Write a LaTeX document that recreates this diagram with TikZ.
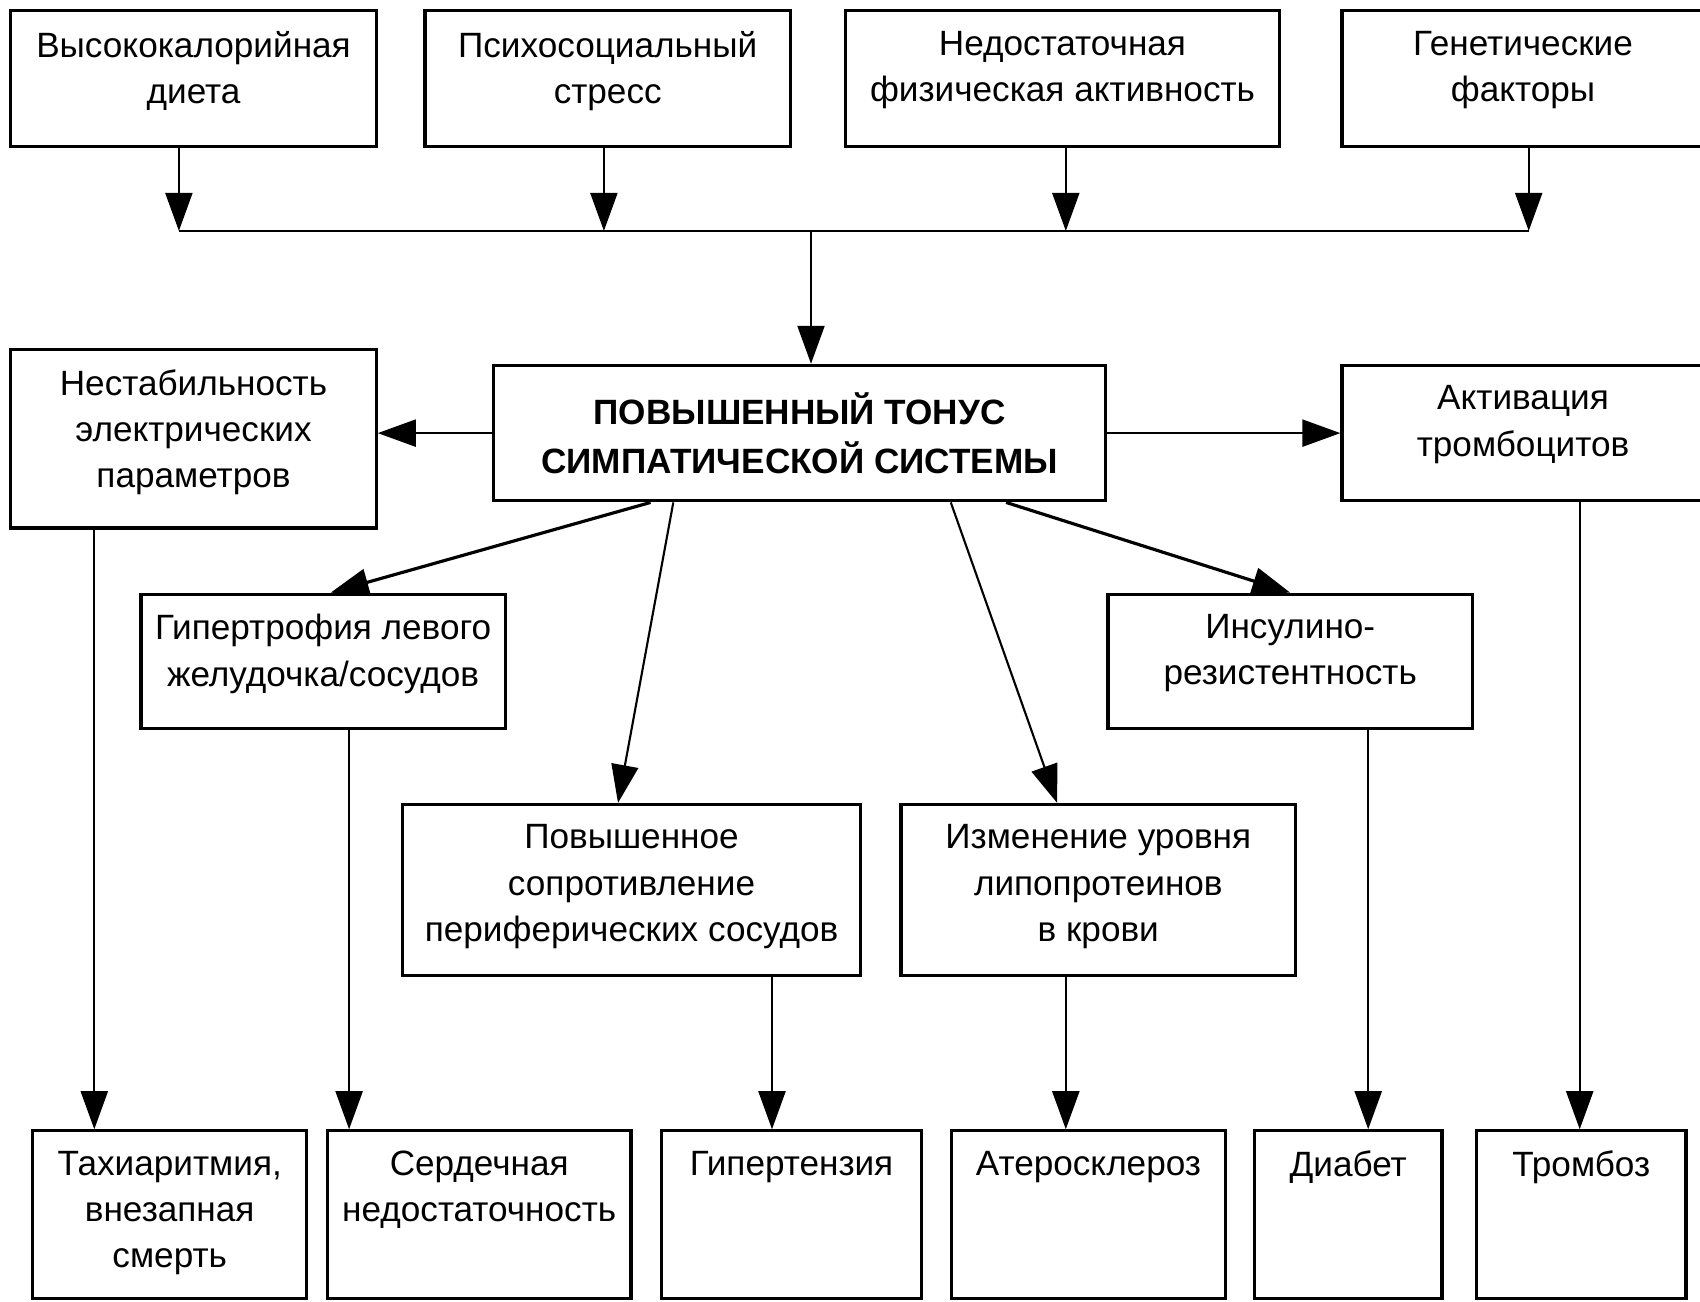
\documentclass[tikz,border=0pt]{standalone}
\usepackage{fontspec}
\setmainfont{Liberation Sans}
\usetikzlibrary{arrows.meta,positioning}

\begin{document}
\begin{tikzpicture}[
  box/.style={draw, line width=0.9pt, inner sep=0pt},
  lbl/.style={anchor=north, inner sep=0pt, yshift=-0.21cm, align=center, font=\fontsize{10}{13.2}\selectfont},
  arr/.style={line width=0.6pt, -{Triangle[length=3.8mm,width=2.7mm]}},
  ]
  \useasboundingbox (0,0) rectangle (17,-13.01);

  % Risk factors
  \node[box, minimum width=3.654cm, minimum height=1.355cm] (diet) at (1.935,-0.786) {};
  \node[lbl] (dietT) at (diet.north) {Высококалорийная\\диета};
  \node[box, minimum width=3.654cm, minimum height=1.355cm] (stress) at (6.077,-0.786) {};
  \node[lbl] (stressT) at (stress.north) {Психосоциальный\\стресс};
  \node[box, minimum width=4.337cm, minimum height=1.355cm] (activity) at (10.625,-0.786) {};
  \node[lbl] (activityT) at (activity.north) {Недостаточная\\физическая активность};
  \node[box, minimum width=4.0cm, minimum height=1.355cm] (genes) at (15.42,-0.786) {};
  \node[lbl] (genesT) at (15.23,0 |- genes.north) {Генетические\\факторы};

  % Bus
  \coordinate (busL) at (1.789,-2.309);
  \coordinate (busR) at (15.287,-2.309);
  \foreach \src/\x in {diet/1.789, stress/6.039, activity/10.658, genes/15.287}
    \draw[arr] (\x,0 |- \src.south) -- (\x,0 |- busL);
  \draw[line width=0.6pt] (busL) -- (busR);

  % Core
  \node[box, minimum width=6.126cm, minimum height=1.355cm, align=center,
        font=\bfseries\fontsize{10}{13.8}\selectfont] (core) at (7.996,-4.331)
        {ПОВЫШЕННЫЙ ТОНУС\\СИМПАТИЧЕСКОЙ СИСТЕМЫ};
  \draw[arr] (8.11,0 |- busL) -- (8.11,0 |- core.north);

  % Side effects
  \node[box, minimum width=3.654cm, minimum height=1.789cm] (unstable) at (1.935,-4.386) {};
  \node[lbl] (unstableT) at (unstable.north) {Нестабильность\\электрических\\параметров};
  \node[box, minimum width=4.0cm, minimum height=1.355cm] (platelet) at (15.42,-4.331) {};
  \node[lbl] (plateletT) at (15.23,0 |- platelet.north) {Активация\\тромбоцитов};
  \draw[arr] (core.west) -- (core.west -| unstable.east);
  \draw[arr] (core.east) -- (core.east -| platelet.west);

  % Intermediate changes
  \node[box, minimum width=3.643cm, minimum height=1.344cm] (lvh) at (3.231,-6.614) {};
  \node[lbl] (lvhT) at (lvh.north) {Гипертрофия левого\\желудочка/сосудов};
  \node[box, minimum width=3.643cm, minimum height=1.344cm] (insulin) at (12.902,-6.614) {};
  \node[lbl] (insulinT) at (insulin.north) {Инсулино-\\резистентность};
  \node[box, minimum width=4.586cm, minimum height=1.713cm] (resist) at (6.315,-8.901) {};
  \node[lbl] (resistT) at (resist.north) {Повышенное\\сопротивление\\периферических сосудов};
  \node[box, minimum width=3.946cm, minimum height=1.713cm] (lipid) at (10.983,-8.901) {};
  \node[lbl] (lipidT) at (lipid.north) {Изменение уровня\\липопротеинов\\в крови};

  \draw[arr, line width=0.9pt] (6.505,0 |- core.south) -- (3.307,0 |- lvh.north);
  \draw[arr] (6.733,0 |- core.south) -- (6.18,0 |- resist.north);
  \draw[arr] (9.508,0 |- core.south) -- (10.571,0 |- lipid.north);
  \draw[arr, line width=0.9pt] (10.061,0 |- core.south) -- (12.902,0 |- insulin.north);

  % Outcomes
  \node[box, minimum width=2.743cm, minimum height=1.68cm] (tachy) at (1.697,-12.148) {};
  \node[lbl] (tachyT) at (tachy.north) {Тахиаритмия,\\внезапная\\смерть};
  \node[box, minimum width=3.036cm, minimum height=1.68cm] (heart) at (4.792,-12.148) {};
  \node[lbl] (heartT) at (heart.north) {Сердечная\\недостаточность};
  \node[box, minimum width=2.602cm, minimum height=1.68cm] (hyper) at (7.915,-12.148) {};
  \node[lbl] (hyperT) at (hyper.north) {Гипертензия};
  \node[box, minimum width=2.732cm, minimum height=1.68cm] (athero) at (10.885,-12.148) {};
  \node[lbl] (atheroT) at (athero.north) {Атеросклероз};
  \node[box, minimum width=1.876cm, minimum height=1.68cm] (diab) at (13.482,-12.148) {};
  \node[lbl] (diabT) at (diab.north) {Диабет};
  \node[box, minimum width=2.092cm, minimum height=1.68cm] (thromb) at (15.813,-12.148) {};
  \node[lbl] (thrombT) at (thromb.north) {Тромбоз};

  \foreach \src/\dst/\x in {unstable/tachy/0.943, lvh/heart/3.491, resist/hyper/7.72,
                            lipid/athero/10.658, insulin/diab/13.682, platelet/thromb/15.797}
    \draw[arr] (\x,0 |- \src.south) -- (\x,0 |- \dst.north);
\end{tikzpicture}
\end{document}
